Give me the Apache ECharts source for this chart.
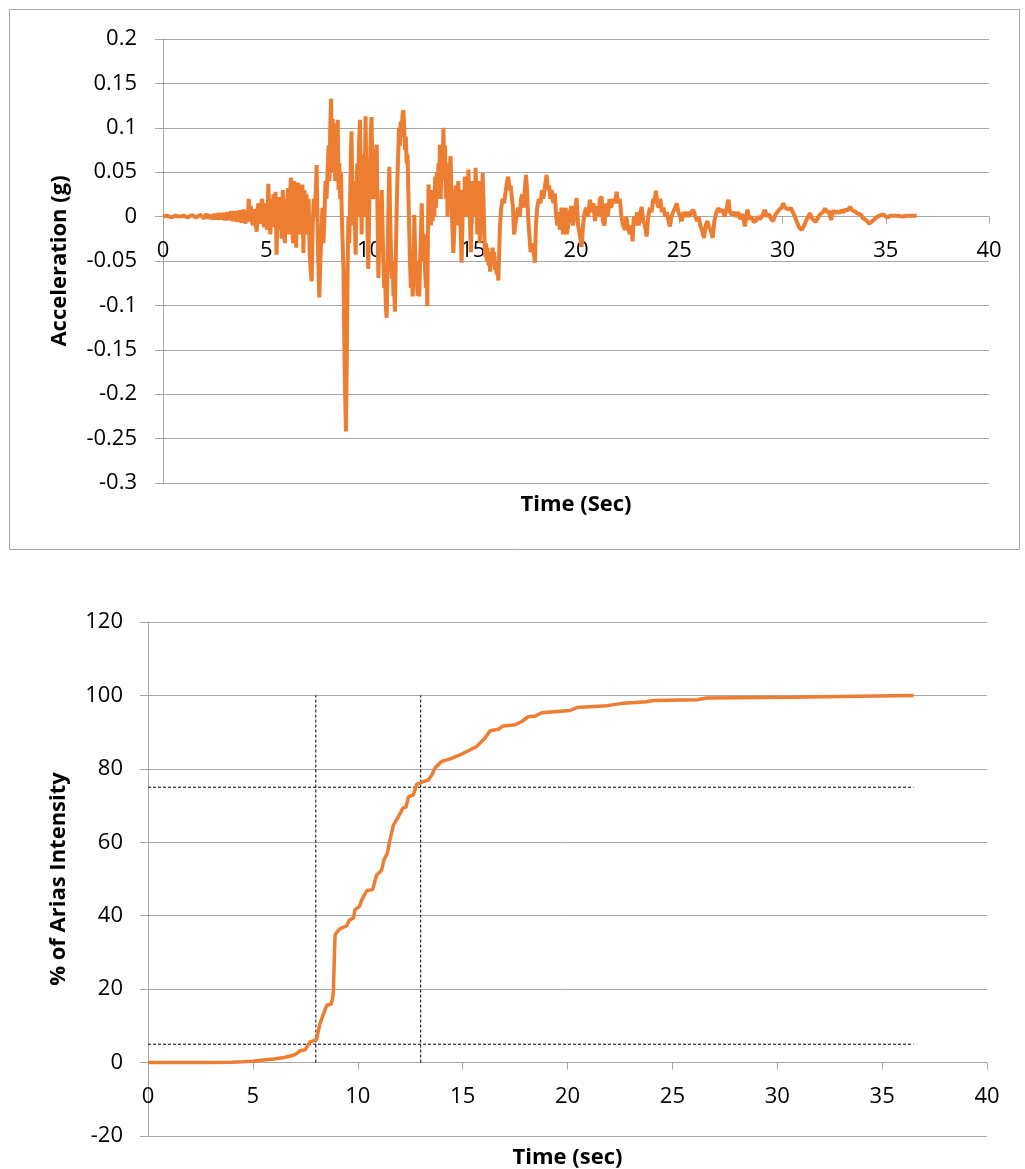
<!DOCTYPE html>
<html>
<head>
<meta charset="utf-8">
<script src="https://cdn.jsdelivr.net/npm/echarts@6/dist/echarts.min.js"></script>
<style>
  html, body { margin: 0; padding: 0; background: #fff; }
  #chart { width: 1025px; height: 1169px; }
</style>
</head>
<body>
<div id="chart"></div>
<script>
// axis ranges [min, max, step]
var timeAxis = [0, 40, 5];
var accAxis = [-0.3, 0.2, 0.05];
var ariasAxis = [-20, 120, 20];

// acceleration record: [time (s), acceleration (g)]
var accRecord = [
  [0,0],[0.2,0.001],[0.4,-0.001],[0.6,0.001],[0.8,0],[1.0,0.001],[1.2,-0.001],[1.4,0.002],[1.6,-0.001],[1.8,0.002],[2.0,-0.002],
  [2.1,0.003],[2.2,-0.002],[2.3,0.002],[2.4,-0.003],[2.5,0.003],[2.6,-0.003],[2.7,0.004],[2.8,-0.003],[2.9,0.004],[3.0,-0.004],
  [3.1,0.005],[3.2,-0.004],[3.3,0.006],[3.4,-0.005],[3.5,0.006],[3.6,-0.006],[3.7,0.007],[3.8,-0.007],[3.9,0.008],[4.0,-0.008],
  [4.05,0.006],[4.1,-0.006],[4.15,0.02],[4.2,0.005],[4.25,0.012],[4.3,-0.004],[4.35,-0.01],[4.4,0.008],[4.45,0.005],[4.5,-0.01],
  [4.54,-0.017],[4.58,0.006],[4.62,0.015],[4.66,-0.004],[4.7,-0.008],[4.75,0.012],[4.8,0.02],[4.85,-0.005],[4.9,-0.012],[4.95,0.015],
  [5.0,0.01],[5.05,-0.015],[5.1,0.037],[5.15,-0.005],[5.2,-0.02],[5.25,0.02],[5.3,0.005],[5.35,0.025],[5.4,-0.012],[5.45,0.028],
  [5.5,-0.043],[5.55,0.01],[5.6,0.022],[5.65,-0.015],[5.7,0.02],[5.75,-0.025],[5.8,0.03],[5.85,-0.01],[5.9,-0.03],[5.95,0.02],
  [6.0,0.005],[6.05,0.032],[6.1,-0.02],[6.15,0.025],[6.2,0.044],[6.25,-0.01],[6.3,-0.03],[6.35,0.04],[6.4,0.01],[6.45,-0.035],
  [6.5,0.03],[6.55,0.038],[6.6,-0.02],[6.65,0.035],[6.7,0.01],[6.75,0.036],[6.8,-0.041],[6.85,0.03],[6.9,-0.01],[6.95,0.025],
  [7.0,-0.02],[7.05,0.02],[7.1,-0.04],[7.15,-0.06],[7.2,-0.073],[7.25,-0.01],[7.3,0.02],[7.35,0.0],[7.4,0.03],[7.44,0.058],
  [7.48,0.0],[7.52,-0.05],[7.57,-0.091],[7.62,-0.05],[7.67,-0.02],[7.72,0.01],[7.77,-0.03],[7.82,0.0],[7.87,0.04],[7.92,0.02],
  [7.97,0.05],[8.02,0.08],[8.06,0.04],[8.1,0.1],[8.14,0.133],[8.18,0.06],[8.22,0.11],[8.26,0.05],[8.3,0.105],[8.34,0.04],
  [8.38,0.09],[8.42,0.06],[8.46,0.109],[8.5,0.03],[8.54,0.06],[8.58,0.02],[8.62,0.05],[8.66,0.0],[8.7,-0.03],[8.74,-0.06],
  [8.78,-0.14],[8.82,-0.2],[8.86,-0.242],[8.9,-0.16],[8.94,-0.06],[8.98,0.0],[9.02,-0.03],[9.06,0.02],[9.1,0.07],[9.13,0.096],
  [9.17,0.02],[9.2,-0.01],[9.24,0.04],[9.28,0.0],[9.33,-0.043],[9.37,0.03],[9.41,0.06],[9.45,0.0],[9.49,0.08],[9.54,0.109],
  [9.58,0.03],[9.62,-0.02],[9.66,0.05],[9.7,0.07],[9.74,0.0],[9.78,0.06],[9.81,0.113],[9.85,0.04],[9.89,0.0],[9.94,-0.059],
  [9.98,0.0],[10.02,0.05],[10.06,0.09],[10.1,0.112],[10.14,0.05],[10.18,0.02],[10.22,0.06],[10.26,0.03],[10.3,0.07],[10.35,0.081],
  [10.39,0.0],[10.43,-0.069],[10.47,-0.03],[10.51,0.01],[10.55,-0.02],[10.59,0.03],[10.63,-0.01],[10.67,-0.05],[10.71,-0.08],[10.75,-0.06],
  [10.79,-0.1],[10.83,-0.114],[10.87,-0.06],[10.91,0.0],[10.96,0.056],[11.0,0.0],[11.04,-0.04],[11.08,-0.07],[11.12,-0.05],[11.16,-0.09],
  [11.2,-0.08],[11.23,-0.107],[11.27,-0.05],[11.31,0.0],[11.35,0.04],[11.39,0.07],[11.43,0.1],[11.47,0.08],[11.51,0.107],[11.55,0.09],
  [11.6,0.115],[11.64,0.12],[11.68,0.1],[11.72,0.075],[11.76,0.09],[11.8,0.06],[11.84,0.07],[11.88,0.03],[11.92,-0.01],[11.96,-0.05],
  [12.0,-0.08],[12.04,-0.05],[12.09,-0.09],[12.13,-0.07],[12.17,0.002],[12.21,-0.04],[12.25,-0.07],[12.29,-0.05],[12.33,-0.089],[12.37,-0.06],
  [12.41,-0.09],[12.45,-0.05],[12.49,-0.02],[12.53,0.015],[12.57,-0.03],[12.61,-0.05],[12.65,-0.02],[12.69,-0.06],[12.73,-0.08],[12.77,-0.05],
  [12.8,-0.101],[12.83,-0.02],[12.86,0.036],[12.9,0.0],[12.94,0.03],[12.98,-0.01],[13.02,0.02],[13.06,-0.005],[13.1,0.03],[13.14,0.0],
  [13.18,0.045],[13.22,0.01],[13.26,0.05],[13.3,0.02],[13.34,0.06],[13.38,0.03],[13.41,0.081],[13.45,0.02],[13.49,0.07],[13.53,0.04],
  [13.58,0.1],[13.62,0.05],[13.66,0.08],[13.7,0.02],[13.74,0.06],[13.78,0.0],[13.82,0.05],[13.86,0.02],[13.9,0.06],[13.93,0.068],
  [13.97,0.02],[14.01,-0.01],[14.06,-0.041],[14.1,-0.02],[14.14,0.02],[14.18,0.035],[14.22,-0.01],[14.26,0.02],[14.3,0.04],[14.34,0.0],
  [14.38,0.03],[14.42,-0.02],[14.46,-0.052],[14.5,-0.01],[14.54,0.03],[14.58,0.01],[14.62,0.045],[14.66,0.0],[14.7,0.04],[14.75,0.02],
  [14.79,0.053],[14.83,0.02],[14.87,-0.01],[14.91,-0.04],[14.95,0.01],[14.99,0.04],[15.03,0.0],[15.07,0.03],[15.11,0.01],[15.14,0.055],
  [15.18,0.02],[15.22,-0.02],[15.26,0.01],[15.3,0.04],[15.34,-0.03],[15.38,0.0],[15.42,0.03],[15.45,0.01],[15.48,0.049],[15.52,0.02],
  [15.56,-0.02],[15.6,-0.045],[15.64,-0.03],[15.68,-0.05],[15.72,-0.035],[15.76,-0.055],[15.8,-0.04],[15.84,-0.062],[15.88,-0.045],[15.92,-0.05],
  [15.96,-0.035],[16.0,-0.055],[16.04,-0.04],[16.08,-0.06],[16.12,-0.05],[16.16,-0.065],[16.2,-0.06],[16.24,-0.072],[16.28,-0.04],[16.32,-0.01],
  [16.38,0.01],[16.45,0.02],[16.52,0.015],[16.6,0.03],[16.67,0.04],[16.72,0.045],[16.78,0.03],[16.84,0.035],[16.9,0.02],[16.95,0.01],
  [17.0,-0.02],[17.05,-0.022],[17.12,0.0],[17.2,0.01],[17.28,0.0],[17.34,0.02],[17.4,0.025],[17.46,0.01],[17.52,0.03],[17.58,0.047],
  [17.63,0.03],[17.68,0.0],[17.74,-0.02],[17.8,-0.04],[17.88,-0.03],[17.95,-0.04],[18.01,-0.052],[18.06,-0.01],[18.12,0.01],[18.2,0.02],
  [18.28,0.015],[18.36,0.03],[18.42,0.02],[18.5,0.035],[18.58,0.047],[18.64,0.03],[18.7,0.035],[18.76,0.02],[18.82,0.03],[18.9,0.015],
  [18.98,0.026],[19.04,0.0],[19.1,-0.01],[19.16,0.005],[19.22,-0.015],[19.3,0.01],[19.37,-0.02],[19.44,-0.005],[19.5,0.01],[19.56,-0.02],
  [19.63,-0.022],[19.7,0.005],[19.78,0.012],[19.85,-0.01],[19.92,0.0],[20.03,0.021],[20.1,-0.01],[20.18,-0.02],[20.27,-0.034],[20.34,-0.01],
  [20.42,0.005],[20.5,0.01],[20.58,0.0],[20.68,0.019],[20.76,0.005],[20.84,0.015],[20.92,-0.005],[21.0,0.012],[21.08,0.0],[21.16,0.02],
  [21.24,0.0225],[21.3,-0.005],[21.38,-0.01],[21.46,0.015],[21.54,0.0],[21.62,0.02],[21.7,0.01],[21.8,0.02],[21.88,0.015],[21.97,0.028],
  [22.04,0.015],[22.12,0.02],[22.2,0.0],[22.28,-0.01],[22.37,-0.015],[22.44,0.0],[22.5,-0.01],[22.6,-0.02],[22.68,-0.01],[22.74,-0.028],
  [22.8,0.0],[22.88,-0.01],[22.96,0.005],[23.04,-0.01],[23.12,0.005],[23.18,0.011],[23.26,-0.005],[23.34,-0.01],[23.42,-0.0225],[23.5,0.0],
  [23.58,0.01],[23.66,0.005],[23.74,0.02],[23.8,0.015],[23.87,0.029],[23.94,0.015],[24.0,0.01],[24.08,0.02],[24.16,0.005],[24.24,0.01],
  [24.32,0.0],[24.4,0.005],[24.48,-0.005],[24.55,-0.011],[24.62,0.0],[24.7,0.005],[24.8,0.01],[24.88,0.015],[24.96,0.005],[25.04,0.0],
  [25.12,-0.005],[25.2,0.005],[25.3,0.0],[25.4,0.005],[25.5,0.0],[25.58,0.005],[25.68,0.0075],[25.78,0.0],[25.86,-0.005],[25.94,0.0],
  [26.02,-0.01],[26.1,-0.015],[26.2,-0.024],[26.28,-0.01],[26.36,-0.005],[26.44,-0.012],[26.52,-0.015],[26.62,-0.024],[26.7,-0.005],[26.8,0.005],
  [26.9,0.0094],[27.0,0.005],[27.1,0.008],[27.2,0.0],[27.3,0.01],[27.38,0.019],[27.46,0.005],[27.55,0.002],[27.65,0.005],[27.75,0.0],
  [27.85,0.005],[27.95,-0.003],[28.05,0.003],[28.18,-0.011],[28.3,0.008],[28.4,-0.003],[28.5,0.0],[28.6,-0.006],[28.7,-0.005],[28.8,0.0],
  [28.9,-0.003],[29.0,0.0],[29.15,0.0075],[29.25,0.0],[29.35,0.003],[29.45,-0.003],[29.55,-0.005],[29.65,0.002],[29.75,0.005],[29.85,0.008],
  [29.95,0.01],[30.04,0.015],[30.12,0.01],[30.2,0.012],[30.3,0.008],[30.4,0.01],[30.5,0.005],[30.6,0.0],[30.7,-0.006],[30.8,-0.012],
  [30.93,-0.015],[31.05,-0.01],[31.15,-0.004],[31.25,0.0],[31.33,0.004],[31.42,-0.002],[31.5,-0.004],[31.6,-0.006],[31.7,-0.002],[31.8,0.002],
  [31.9,0.004],[32.0,0.006],[32.06,0.0094],[32.15,0.005],[32.25,0.006],[32.35,-0.004],[32.45,0.007],[32.55,0.004],[32.65,0.006],[32.75,0.004],
  [32.85,0.007],[32.95,0.005],[33.05,0.008],[33.15,0.007],[33.27,0.011],[33.38,0.007],[33.5,0.006],[33.6,0.004],[33.7,0.003],[33.8,0.002],
  [33.9,-0.002],[34.0,-0.003],[34.1,-0.005],[34.2,-0.008],[34.3,-0.006],[34.4,-0.004],[34.5,-0.002],[34.6,0.0],[34.7,0.001],[34.8,0.002],
  [34.9,0.002],[35.0,0.0],[35.1,-0.001],[35.2,0.001],[35.4,0.001],[35.6,0.001],[35.8,0.0],[36.0,0.001],[36.2,0.001],[36.5,0.001]
];

// cumulative Arias intensity: [time (s), % of total]
var ariasRecord = [
  [0,0],[1,0],[2,0],[3,0.02],[4,0.1],[4.5,0.2],[5,0.35],[5.5,0.7],[6,1.0],[6.5,1.4],[6.93,2.0],[7.1,2.5],[7.25,3.2],[7.5,3.5],
  [7.72,5.6],[7.9,6.0],[8.04,6.3],[8.1,8.0],[8.2,10.6],[8.35,13.0],[8.52,15.6],[8.73,15.9],[8.8,17.5],[8.84,19.3],[8.88,28],
  [8.92,34.7],[9.0,35.5],[9.16,36.5],[9.47,37.2],[9.6,38.8],[9.8,39.4],[9.87,41.7],[10.08,42.5],[10.19,44.3],[10.43,46.8],
  [10.71,47.1],[10.9,51.1],[11.14,52.4],[11.25,55.2],[11.41,57],[11.5,59.7],[11.7,64.7],[11.94,67],[12.15,69.3],[12.3,69.6],
  [12.42,72.4],[12.65,72.9],[12.81,75.8],[13.06,76.4],[13.37,77],[13.53,78.3],[13.69,80.3],[14.0,82],[14.4,82.7],[14.88,83.8],
  [15.36,85.2],[15.67,86.1],[16.07,88.4],[16.31,90.4],[16.71,90.8],[16.93,91.7],[17.5,92],[17.82,92.9],[18.13,94.2],[18.47,94.4],
  [18.77,95.3],[20.12,95.9],[20.44,96.7],[21.87,97.2],[22.2,97.5],[22.67,97.9],[23.78,98.3],[24.1,98.6],[26.16,98.8],[26.64,99.3],
  [30.77,99.5],[33,99.7],[36.5,100]
];

// reference lines on the Arias plot
var markTimes = [8, 13];      // vertical dashed lines (s)
var markLevels = [5, 75];     // horizontal dashed lines (%)
var markTop = 100;
var markEnd = 36.5;

var orange = '#ED7D31';
var gridGray = '#a6a6a6';
var font = '"Open Sans", "Noto Sans", sans-serif';

// plot areas in px
var topGrid = { left: 163, top: 39, right: 36, height: 444 };
var botGrid = { left: 148, top: 622, right: 38, height: 514 };

var myChart = echarts.init(document.getElementById('chart'));

function labelStyle(fmt, margin) {
  return { color: '#000', fontSize: 22, fontFamily: font, formatter: fmt, margin: margin };
}
function nameStyle() {
  return { color: '#000', fontSize: 22, fontWeight: 'bold', fontFamily: font };
}
// shift the time axis up so it sits on the zero line, as in the original
function zeroOffset(ax, h) {
  return -h * (0 - ax[0]) / (ax[1] - ax[0]);
}

var dashSeries = [];
markTimes.forEach(function (t) {
  dashSeries.push({
    type: 'line', xAxisIndex: 1, yAxisIndex: 1, showSymbol: false, silent: true,
    lineStyle: { color: '#000', width: 1, type: [3, 2] },
    data: [[t, 0], [t, markTop]]
  });
});
markLevels.forEach(function (v) {
  dashSeries.push({
    type: 'line', xAxisIndex: 1, yAxisIndex: 1, showSymbol: false, silent: true,
    lineStyle: { color: '#000', width: 1, type: [3, 2] },
    data: [[0, v], [markEnd, v]]
  });
});

function timeAxisOpt(gridIndex, name, gap, offset) {
  return {
    gridIndex: gridIndex, type: 'value', min: timeAxis[0], max: timeAxis[1], interval: timeAxis[2],
    position: 'bottom', offset: offset,
    name: name, nameLocation: 'middle', nameGap: gap, nameTextStyle: nameStyle(),
    axisLine: { onZero: false, lineStyle: { color: gridGray } },
    axisTick: { show: true, length: 7, lineStyle: { color: gridGray } },
    axisLabel: labelStyle(function (v) { return String(v); }, 23),
    splitLine: { show: false }
  };
}

var option = {
  animation: false,
  backgroundColor: '#fff',
  graphic: [{
    type: 'rect',
    shape: { x: 9.5, y: 9.5, width: 1010, height: 540 },
    style: { fill: 'none', stroke: gridGray, lineWidth: 1 }
  }],
  grid: [
    Object.assign({ outerBoundsMode: 'none' }, topGrid),
    Object.assign({ outerBoundsMode: 'none' }, botGrid)
  ],
  xAxis: [
    timeAxisOpt(0, 'Time (Sec)', 277, zeroOffset(accAxis, topGrid.height)),
    timeAxisOpt(1, 'Time (sec)', 84, zeroOffset(ariasAxis, botGrid.height))
  ],
  yAxis: [
    {
      gridIndex: 0, type: 'value', min: accAxis[0], max: accAxis[1], interval: accAxis[2],
      name: 'Acceleration (g)', nameLocation: 'middle', nameGap: 92, nameTextStyle: nameStyle(),
      axisLine: { show: true, onZero: false, lineStyle: { color: gridGray } },
      axisTick: { show: true, length: 8, lineStyle: { color: gridGray } },
      axisLabel: labelStyle(function (v) { return String(Math.round(v * 100) / 100); }, 26),
      splitLine: { show: true, lineStyle: { color: gridGray, width: 1 } }
    },
    {
      gridIndex: 1, type: 'value', min: ariasAxis[0], max: ariasAxis[1], interval: ariasAxis[2],
      name: '% of Arias Intensity', nameLocation: 'middle', nameGap: 78, nameTextStyle: nameStyle(),
      axisLine: { show: true, onZero: false, lineStyle: { color: gridGray } },
      axisTick: { show: true, length: 8, lineStyle: { color: gridGray } },
      axisLabel: labelStyle(function (v) { return String(v); }, 25),
      splitLine: { show: true, lineStyle: { color: gridGray, width: 1 } }
    }
  ],
  series: [
    {
      type: 'line', xAxisIndex: 0, yAxisIndex: 0, showSymbol: false,
      lineStyle: { color: orange, width: 4 },
      data: accRecord
    }
  ].concat(dashSeries).concat([
    {
      type: 'line', xAxisIndex: 1, yAxisIndex: 1, showSymbol: false,
      lineStyle: { color: orange, width: 3.5 },
      data: ariasRecord
    }
  ])
};

myChart.setOption(option);
</script>
</body>
</html>
